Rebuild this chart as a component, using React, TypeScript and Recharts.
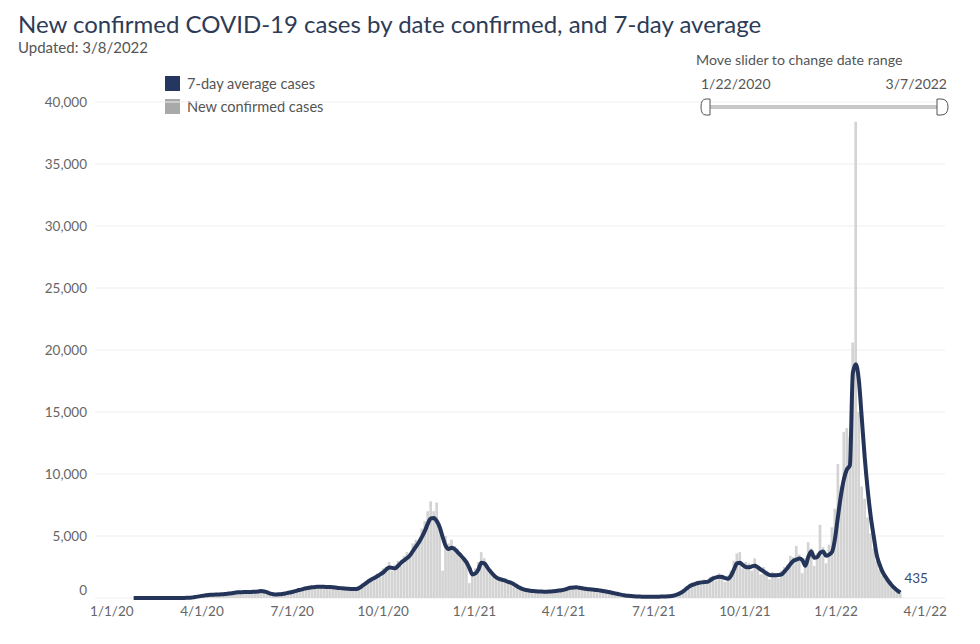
import React from "react";
import { ComposedChart, Bar, Line, XAxis, YAxis, CartesianGrid } from "recharts";

// one row every 3 days, starting 1/23/2020 (day 22 counted from 1/1/2020)
const START_DAY = 22;
const STEP = 3;

const avgCases = [
  0, 0, 0, 0, 0, 0, 0, 0, 0, 0, 0, 0, 0, 0, 0, 1, 2, 5, 15, 28,
  50, 90, 130, 170, 210, 245, 265, 270, 280, 290, 300, 330, 360, 390, 430, 455, 465, 475, 480, 480,
  495, 500, 530, 560, 520, 450, 350, 300, 280, 300, 330, 370, 420, 460, 530, 600, 660, 720, 790, 820,
  860, 890, 900, 905, 900, 890, 880, 870, 840, 810, 790, 770, 750, 730, 720, 730, 830, 990, 1160, 1340,
  1500, 1620, 1760, 1910, 2070, 2300, 2460, 2430, 2390, 2600, 2850, 3030, 3220, 3450, 3800, 4150, 4500, 4930, 5410, 6000,
  6420, 6450, 6200, 5700, 4900, 4200, 3950, 4050, 3950, 3700, 3450, 3180, 2870, 2400, 1900, 1980, 2300, 2850, 2800, 2470,
  2150, 1880, 1660, 1550, 1470, 1400, 1300, 1230, 1100, 950, 820, 720, 650, 600, 570, 550, 530, 520, 510, 510,
  520, 540, 560, 600, 630, 680, 760, 820, 850, 860, 820, 780, 740, 710, 690, 670, 640, 600, 560, 520,
  480, 420, 370, 320, 270, 220, 190, 170, 150, 130, 120, 110, 105, 100, 100, 100, 105, 110, 115, 125,
  140, 160, 210, 290, 400, 560, 750, 940, 1060, 1140, 1210, 1260, 1280, 1300, 1430, 1580, 1660, 1720, 1700, 1600,
  1560, 1800, 2300, 2800, 2850, 2650, 2500, 2480, 2550, 2600, 2480, 2300, 2150, 1980, 1850, 1830, 1840, 1850, 1900, 2150,
  2420, 2750, 3000, 3100, 3180, 3050, 2600, 3300, 3750, 3250, 3300, 3650, 3750, 3400, 3500, 3720, 4800, 6600, 8300, 9600,
  10370, 10700, 18150, 18850, 17600, 14500, 11300, 8700, 6600, 5000, 3500, 2700, 2100, 1700, 1350, 1050, 800, 600, 435,
];

const newCases = [
  0, 0, 0, 0, 0, 0, 0, 0, 0, 0, 0, 0, 0, 0, 0, 2, 4, 10, 25, 45,
  70, 120, 160, 200, 240, 290, 250, 310, 300, 270, 340, 360, 380, 440, 470, 430, 520, 500, 460, 540,
  510, 560, 600, 620, 470, 400, 320, 330, 300, 340, 380, 420, 480, 520, 600, 680, 720, 800, 870, 900,
  950, 980, 1000, 940, 1020, 960, 900, 980, 880, 860, 900, 820, 800, 780, 760, 900, 950, 1150, 1300, 1550,
  1600, 1800, 2000, 1700, 2400, 2500, 2900, 2200, 2700, 3000, 2600, 3400, 3700, 3300, 4400, 4700, 4300, 5600, 6200, 7000,
  7800, 7000, 7700, 6000, 2200, 5000, 4400, 4700, 4200, 4000, 3600, 3300, 3000, 1200, 1900, 2400, 2900, 3700, 3200, 2700,
  2300, 1900, 1800, 1700, 1500, 1600, 1350, 1300, 1150, 1000, 870, 760, 700, 640, 600, 580, 560, 550, 540, 530,
  560, 580, 600, 650, 700, 760, 820, 900, 940, 880, 860, 800, 780, 750, 720, 700, 680, 640, 600, 560,
  520, 450, 400, 340, 290, 240, 210, 180, 160, 140, 130, 120, 110, 110, 105, 110, 115, 120, 130, 140,
  160, 190, 260, 350, 500, 700, 900, 1100, 1250, 1300, 1400, 1350, 1500, 1250, 1700, 1800, 1400, 2000, 1900, 1300,
  1800, 2200, 3000, 3600, 3700, 2400, 2900, 2800, 2200, 3200, 2600, 1900, 2500, 2200, 1500, 2100, 2000, 1600, 2200, 2500,
  2700, 3400, 3300, 4200, 3500, 2000, 3200, 4500, 4000, 2600, 3600, 5900, 4100, 2800, 4300, 5700, 7200, 10800, 9000, 13400,
  13700, 13000, 20600, 38400, 15000, 9000, 8000, 6500, 5200, 4000, 3000, 2300, 1800, 1500, 1200, 900, 700, 500, 400,
];

const xTicks = [0, 91, 182, 274, 366, 456, 547, 639, 731, 821];
const xTickLabels = ["1/1/20", "4/1/20", "7/1/20", "10/1/20", "1/1/21", "4/1/21", "7/1/21", "10/1/21", "1/1/22", "4/1/22"];
const yTicks = [0, 5000, 10000, 15000, 20000, 25000, 30000, 35000, 40000];

const data = newCases.map((v, i) => ({
  day: START_DAY + i * STEP,
  cases: v,
  avg: avgCases[i],
}));

const FONT = "Lato, sans-serif";
const NAVY = "#243559";

const YTick = ({ x, y, payload }: any) => (
  <text
    x={x}
    y={payload.value === 0 ? y - 8 : y}
    dy={5}
    textAnchor="end"
    fill="#666"
    fontSize={13.5}
    fontFamily={FONT}
  >
    {payload.value.toLocaleString("en-US")}
  </text>
);

const XTick = ({ x, y, payload }: any) => {
  const i = xTicks.indexOf(payload.value);
  return (
    <text x={x} y={y} dy={10} textAnchor="middle" fill="#666" fontSize={13.5} fontFamily={FONT}>
      {xTickLabels[i]}
    </text>
  );
};

const EndLabel = (props: any) => {
  const { x, y, index } = props;
  if (index !== avgCases.length - 1) return null;
  return (
    <text x={x + 4} y={y - 10} fill="#3b4a6b" fontSize={13.5} fontFamily={FONT}>
      {avgCases[avgCases.length - 1]}
    </text>
  );
};

export default function App() {
  return (
    <div
      style={{
        position: "absolute",
        left: 0,
        top: 0,
        width: 980,
        height: 644,
        background: "#fff",
        fontFamily: FONT,
        overflow: "hidden",
      }}
    >
      <div style={{ position: "absolute", left: 18, top: 10, fontSize: 24, lineHeight: "28px", color: "#2e3b56", whiteSpace: "nowrap" }}>
        New confirmed COVID-19 cases by date confirmed, and 7-day average
      </div>
      <div style={{ position: "absolute", left: 18, top: 38, fontSize: 15, lineHeight: "18px", color: "#555" }}>
        Updated: 3/8/2022
      </div>

      {/* legend */}
      <div style={{ position: "absolute", left: 165, top: 76, width: 15, height: 15, background: "#253760" }} />
      <div style={{ position: "absolute", left: 187, top: 75, fontSize: 14.6, lineHeight: "17px", color: "#555" }}>
        7-day average cases
      </div>
      <div style={{ position: "absolute", left: 165, top: 99, width: 15, height: 15, background: "#a9a9a9" }} />
      <div style={{ position: "absolute", left: 187, top: 98, fontSize: 14.6, lineHeight: "17px", color: "#555" }}>
        New confirmed cases
      </div>

      <ComposedChart
        width={980}
        height={644}
        data={data}
        margin={{ top: 102, right: 35, bottom: 16, left: 0 }}
        barGap={0}
      >
        <CartesianGrid vertical={false} stroke="#eeeeee" />
        <XAxis
          dataKey="day"
          type="number"
          domain={[-17, 841]}
          ticks={xTicks}
          tick={<XTick />}
          axisLine={false}
          tickLine={false}
          height={30}
          interval={0}
        />
        <YAxis
          type="number"
          domain={[0, 40000]}
          ticks={yTicks}
          tick={<YTick />}
          axisLine={false}
          tickLine={false}
          width={95}
          interval={0}
        />
        <Bar dataKey="cases" fill="#d3d3d3" barSize={3} isAnimationActive={false} />
        <Line
          dataKey="avg"
          type="monotone"
          stroke={NAVY}
          strokeWidth={4}
          dot={false}
          isAnimationActive={false}
          label={<EndLabel />}
        />
      </ComposedChart>

      {/* date range slider */}
      <svg style={{ position: "absolute", left: 0, top: 0 }} width={980} height={130}>
        <text x={696} y={65} fontSize={14.2} fill="#555" fontFamily={FONT}>
          Move slider to change date range
        </text>
        <text x={701} y={89} fontSize={14} fill="#555" fontFamily={FONT}>
          1/22/2020
        </text>
        <text x={947} y={89} fontSize={14} fill="#555" fontFamily={FONT} textAnchor="end">
          3/7/2022
        </text>
        <rect x={706} y={105} width={236} height={4} fill="#c8c8c8" />
        <path d="M710,99 L706,99 Q701,99 701,107 Q701,115 706,115 L710,115 Z" fill="#fff" stroke="#555" strokeWidth={1} />
        <path d="M937,99 L941,99 Q948,99 948,107 Q948,115 941,115 L937,115 Z" fill="#fff" stroke="#555" strokeWidth={1} />
      </svg>
    </div>
  );
}
